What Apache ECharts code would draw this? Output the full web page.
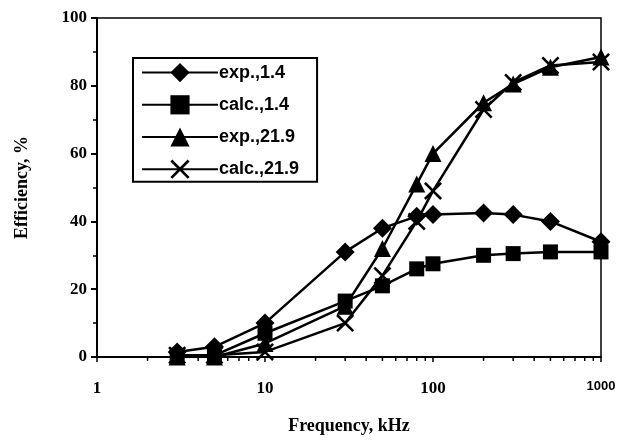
<!DOCTYPE html>
<html><head><meta charset="utf-8">
<script src="https://cdn.jsdelivr.net/npm/echarts@6/dist/echarts.min.js"></script>
<style>html,body{margin:0;padding:0;background:#fff}#c{width:620px;height:440px}</style>
</head><body><div id="c"></div>
<script>
var freq = [3, 5, 10, 30, 50, 80, 100, 200, 300, 500, 1000];
var exp14 = [1.5, 3, 10, 31, 38, 41.5, 42, 42.5, 42, 40, 34];
var calc14 = [0.5, 0.5, 7, 16.5, 21, 26, 27.5, 30, 30.5, 31, 31];
var exp219 = [0, 0, 4, 15, 32, 51, 60, 75, 80.5, 85.5, 88.5];
var calc219 = [0.5, 0.5, 1.5, 10, 24, 40, 49, 73, 81, 86, 87];
var seriesNames = ['exp.,1.4', 'calc.,1.4', 'exp.,21.9', 'calc.,21.9'];
var xTickLabels = ['1', '10', '100', '1000'];
var xMinorTicks = [2,3,4,5,6,7,8,9,20,30,40,50,60,70,80,90,200,300,400,500,600,700,800,900];

function pairs(ys){ return freq.map(function(f,i){ return [f, ys[i]]; }); }
var xPath = 'path://M0,2L2,0L10,8L18,0L20,2L12,10L20,18L18,20L10,12L2,20L0,18L8,10Z';
var symbols = ['diamond', 'rect', 'triangle', xPath];
var sizes = [19, 15, 17, 18];
var allData = [exp14, calc14, exp219, calc219];

var series = allData.map(function(d, i){
  return {
    name: seriesNames[i], type: 'line', data: pairs(d),
    symbol: symbols[i], symbolSize: sizes[i], showSymbol: true,
    lineStyle: {color: '#000', width: 2.5},
    itemStyle: {color: '#000', borderWidth: 0},
    z: 3 + i, animation: false
  };
});
series.push({
  type: 'custom', silent: true, animation: false, clip: false,
  data: xMinorTicks.map(function(v){ return [v, 0]; }),
  renderItem: function(params, api){
    var p = api.coord([api.value(0), 0]);
    return {type: 'line', shape: {x1: p[0], y1: p[1], x2: p[0], y2: p[1] + 4},
            style: {stroke: '#000', lineWidth: 1.5}};
  }
});

var chart = echarts.init(document.getElementById('c'), null, {renderer: 'canvas'});
chart.setOption({
  backgroundColor: '#fff',
  animation: false,
  grid: {left: 97, right: 19, top: 18, bottom: 80, show: true, borderColor: '#000', borderWidth: 1.5, backgroundColor: 'transparent'},
  legend: {
    data: seriesNames, orient: 'vertical', left: 133, top: 58,
    itemWidth: 76, itemHeight: 24, itemGap: 13,
    padding: [5, 18, 3, 8],
    borderColor: '#000', borderWidth: 2, backgroundColor: '#fff',
    textStyle: {fontFamily: 'Liberation Sans', fontWeight: 'bold', fontSize: 18, color: '#000', padding: [0,0,0,-4]}
  },
  xAxis: {
    type: 'log', logBase: 10, min: 1, max: 1000,
    name: 'Frequency, kHz', nameLocation: 'middle', nameGap: 60,
    nameTextStyle: {fontFamily: 'Liberation Serif', fontWeight: 'bold', fontSize: 18, color: '#000'},
    axisLine: {show: true, onZero: false, lineStyle: {color: '#000', width: 2}},
    axisTick: {show: true, inside: false, length: 5, lineStyle: {color: '#000', width: 1.5}},
    minorTick: {show: false},
    splitLine: {show: false},
    axisLabel: {
      margin: 23, color: '#000',
      formatter: function(v){
        var s = String(Math.round(v));
        return s === xTickLabels[3] ? '{s|' + s + '}' : '{n|' + s + '}';
      },
      rich: {
        n: {fontFamily: 'Liberation Serif', fontWeight: 'bold', fontSize: 17, color: '#000'},
        s: {fontFamily: 'Liberation Sans Narrow, Liberation Sans', fontWeight: 'bold', fontSize: 13, color: '#000'}
      }
    }
  },
  yAxis: {
    type: 'value', min: 0, max: 100, interval: 20,
    name: 'Efficiency, %', nameLocation: 'middle', nameGap: 66, nameRotate: 90,
    nameTextStyle: {fontFamily: 'Liberation Serif', fontWeight: 'bold', fontSize: 18, color: '#000'},
    axisLine: {show: true, lineStyle: {color: '#000', width: 2}},
    axisTick: {show: true, length: 6, lineStyle: {color: '#000', width: 2}},
    minorTick: {show: true, splitNumber: 2, length: 4, lineStyle: {color: '#000', width: 1.5}},
    splitLine: {show: false},
    axisLabel: {margin: 10, fontFamily: 'Liberation Serif', fontWeight: 'bold', fontSize: 17, color: '#000'}
  },
  series: series
});
</script></body></html>
